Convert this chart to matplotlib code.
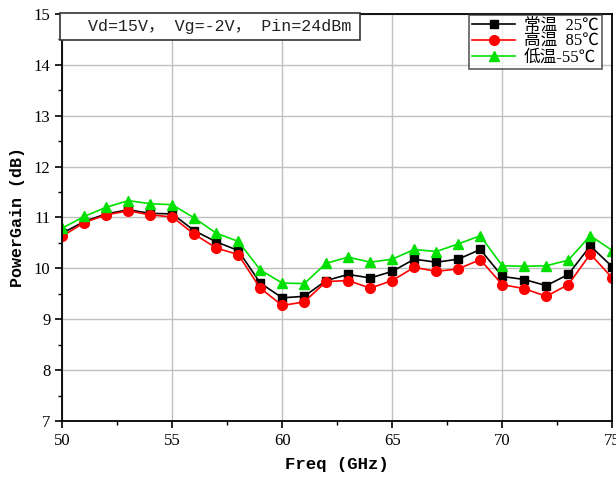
import matplotlib.pyplot as plt
from matplotlib.ticker import MultipleLocator
from matplotlib.patches import Rectangle

# Dados
freq = list(range(50, 76))

gain_25 = [10.69, 10.92, 11.07, 11.15, 11.08, 11.07, 10.74, 10.52, 10.35, 9.71,
           9.42, 9.45, 9.76, 9.88, 9.81, 9.94, 10.18, 10.12, 10.18, 10.37,
           9.84, 9.78, 9.66, 9.88, 10.44, 10.03]
gain_85 = [10.63, 10.90, 11.05, 11.13, 11.05, 11.01, 10.67, 10.40, 10.27, 9.61,
           9.27, 9.34, 9.74, 9.76, 9.61, 9.76, 10.02, 9.94, 9.99, 10.17,
           9.68, 9.60, 9.45, 9.68, 10.28, 9.81]
gain_m55 = [10.79, 11.02, 11.20, 11.33, 11.27, 11.25, 10.99, 10.69, 10.53, 9.97,
            9.71, 9.70, 10.10, 10.22, 10.12, 10.18, 10.37, 10.33, 10.48, 10.64,
            10.05, 10.04, 10.05, 10.16, 10.64, 10.35]

labels = ["常温  25℃", "高温  85℃", "低温-55℃"]
note = "Vd=15V， Vg=-2V， Pin=24dBm"

plt.rcParams['font.family'] = ['Liberation Serif', 'Noto Sans CJK SC', 'DejaVu Sans']

fig = plt.figure(figsize=(6.16, 4.8), dpi=100)
ax = fig.add_axes([0.101, 0.123, 0.893, 0.848])

ax.plot(freq, gain_25, color='black', marker='s', markersize=6, linewidth=1.2, label=labels[0])
ax.plot(freq, gain_85, color='red', marker='o', markersize=7, linewidth=1.2, label=labels[1])
ax.plot(freq, gain_m55, color='#00e000', marker='^', markersize=7.5, linewidth=1.2, label=labels[2])

ax.set_xlim(50, 75)
ax.set_ylim(7, 15)
ax.xaxis.set_major_locator(MultipleLocator(5))
ax.xaxis.set_minor_locator(MultipleLocator(2.5))
ax.yaxis.set_major_locator(MultipleLocator(1))
ax.yaxis.set_minor_locator(MultipleLocator(0.5))
ax.tick_params(which='major', direction='out', length=5, width=1.2, labelsize=12)
ax.tick_params(which='minor', direction='out', length=3, width=1)
ax.grid(True, which='major', color='#c0c0c0', linewidth=1)
for s in ax.spines.values():
    s.set_linewidth(1.3)

ax.set_xlabel("Freq (GHz)", fontsize=12.5, fontweight='bold', family='Liberation Mono', labelpad=6)
ax.set_ylabel("PowerGain (dB)", fontsize=12, fontweight='bold', family='Liberation Mono', labelpad=6)

leg = ax.legend(loc='upper right', bbox_to_anchor=(0.987, 1.006), fontsize=12,
                frameon=True, fancybox=False, borderpad=0.2, labelspacing=0.0,
                handlelength=2.6, handletextpad=0.5, borderaxespad=0.2)
leg.get_frame().set_edgecolor('#333333')
leg.get_frame().set_linewidth(1.2)

# caixa da anotacao
box = Rectangle((-0.004, 0.936), 0.545, 0.067, transform=ax.transAxes,
                facecolor='white', edgecolor='#333333', linewidth=1.2,
                clip_on=False, zorder=5)
ax.add_patch(box)
ax.text(0.047, 0.969, note, transform=ax.transAxes, fontsize=12, color='#222222',
        family=['Liberation Mono', 'Noto Sans CJK SC'], va='center', ha='left', zorder=6)

fig.savefig("out.png", dpi=100)
